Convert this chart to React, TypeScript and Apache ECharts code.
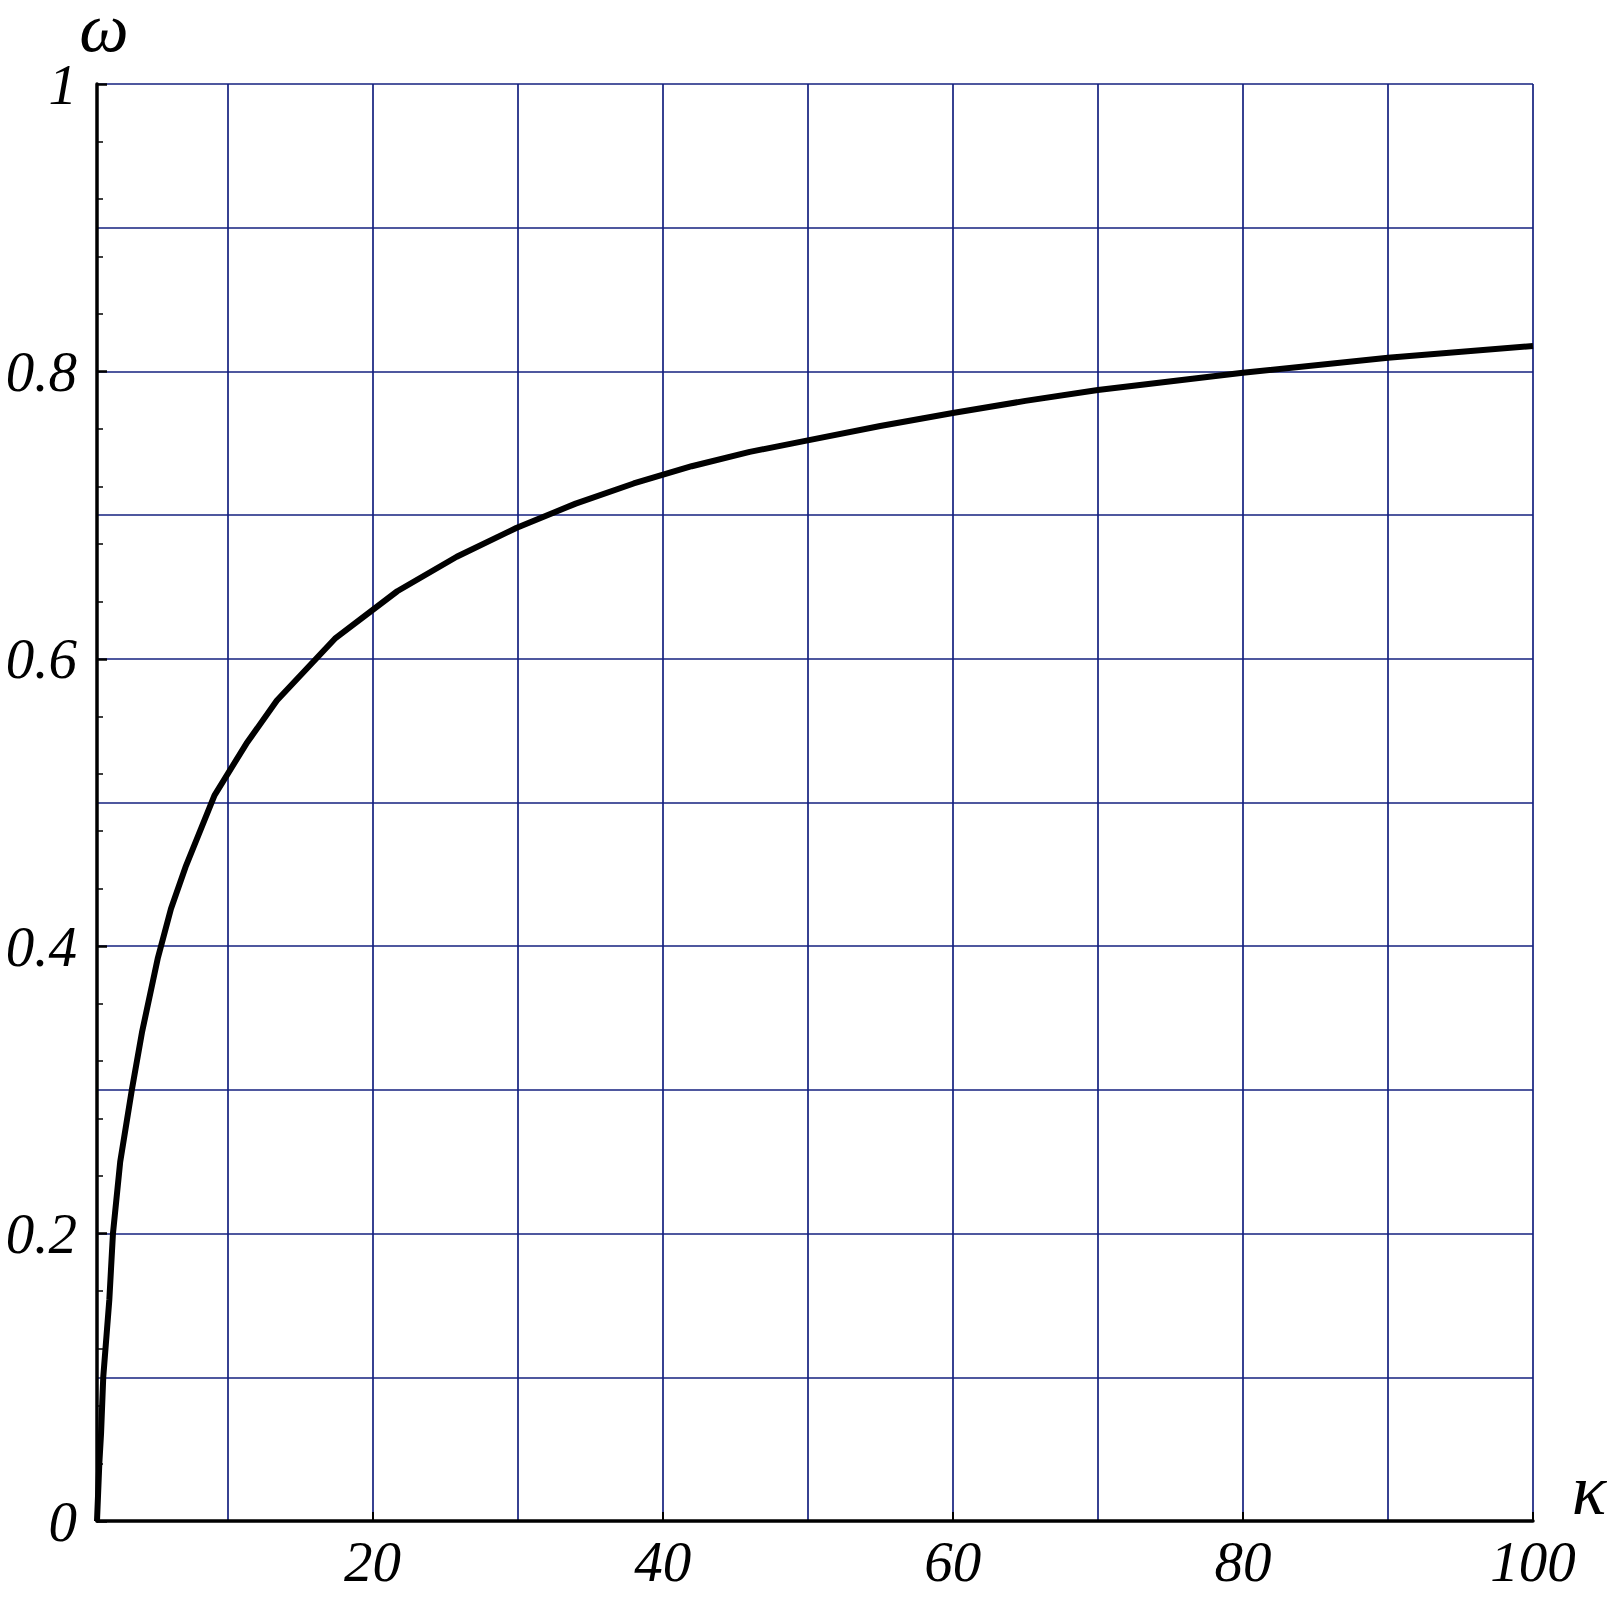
import React, { useEffect, useRef } from "react";
import * as echarts from "echarts";

const kappa = [1, 1.16, 1.28, 1.43, 1.85, 2.1, 2.6, 3.4, 4.1, 5.2, 6.1, 7.1, 9.1, 11.3, 13.4, 17.4, 21.7, 25.8, 29.9, 34, 38, 42, 46, 50, 55, 60, 65, 70, 80, 90, 100];
const omega = [0, 0.04, 0.061, 0.1, 0.154, 0.2, 0.25, 0.3, 0.34, 0.392, 0.426, 0.455, 0.505, 0.541, 0.571, 0.614, 0.647, 0.671, 0.691, 0.708, 0.722, 0.734, 0.744, 0.752, 0.762, 0.771, 0.7795, 0.787, 0.799, 0.8095, 0.8177];

const xTickLabels = [20, 40, 60, 80, 100];
const xGridValues = [10, 20, 30, 40, 50, 60, 70, 80, 90, 100];
const yGridValues = [0.1, 0.2, 0.3, 0.4, 0.5, 0.6, 0.7, 0.8, 0.9, 1];

const GRID_COLOR = "#14207f";
const FONT = '"Liberation Serif", "Times New Roman", serif';

export default function App() {
  const ref = useRef<HTMLDivElement>(null);
  useEffect(() => {
    if (!ref.current) return;
    const chart = echarts.init(ref.current, null, { renderer: "svg" });
    const curve = kappa.map((k, i) => [k, omega[i]]);
    const gridLines = [
      ...xGridValues.map((v) => ({ xAxis: v })),
      ...yGridValues.map((v) => ({ yAxis: v })),
    ];
    chart.setOption({
      animation: false,
      backgroundColor: "#ffffff",
      grid: { left: 97, top: 84, right: 87, bottom: 77, containLabel: false },
      xAxis: {
        type: "value",
        min: 1,
        max: 100,
        z: 20,
        axisLine: { show: true, onZero: false, lineStyle: { color: "#000", width: 3.5 } },
        axisTick: { show: true, inside: true, length: 9, customValues: xTickLabels, lineStyle: { color: "#000", width: 2 } },
        axisLabel: {
          customValues: xTickLabels,
          margin: 12,
          color: "#000",
          fontFamily: FONT,
          fontStyle: "italic",
          fontSize: 57,
        },
        splitLine: { show: false },
      },
      yAxis: {
        type: "value",
        min: 0,
        max: 1,
        interval: 0.2,
        z: 20,
        axisLine: { show: true, onZero: false, lineStyle: { color: "#000", width: 3.5 } },
        axisTick: { show: true, inside: true, length: 10, lineStyle: { color: "#000", width: 2.5 } },
        minorTick: { show: true, splitNumber: 5, length: 6, lineStyle: { color: "#000", width: 1.5 } },
        axisLabel: {
          margin: 20,
          color: "#000",
          fontFamily: FONT,
          fontStyle: "italic",
          fontSize: 57,
        },
        splitLine: { show: false },
      },
      series: [
        {
          type: "line",
          data: [],
          silent: true,
          z: 1,
          markLine: {
            silent: true,
            z: 1,
            symbol: ["none", "none"],
            label: { show: false },
            lineStyle: { color: GRID_COLOR, width: 1.7, type: "solid" },
            emphasis: { disabled: true },
            data: gridLines,
          },
        },
        {
          type: "line",
          data: curve,
          z: 10,
          showSymbol: false,
          symbol: "none",
          smooth: false,
          lineStyle: { color: "#000", width: 6 },
        },
      ],
      graphic: [
        {
          type: "text",
          x: 104,
          y: 27,
          style: {
            text: "ω",
            font: `italic 70px ${FONT}`,
            lineHeight: 48,
            fill: "#000",
            textAlign: "center",
            textVerticalAlign: "middle",
          },
        },
        {
          type: "text",
          x: 1589,
          y: 1490,
          style: {
            text: "κ",
            font: `italic 72px ${FONT}`,
            lineHeight: 48,
            fill: "#000",
            textAlign: "center",
            textVerticalAlign: "middle",
          },
        },
      ],
    });
    return () => chart.dispose();
  }, []);
  return (
    <div
      ref={ref}
      style={{ position: "fixed", left: 0, top: 0, width: 1620, height: 1598, background: "#fff" }}
    />
  );
}
